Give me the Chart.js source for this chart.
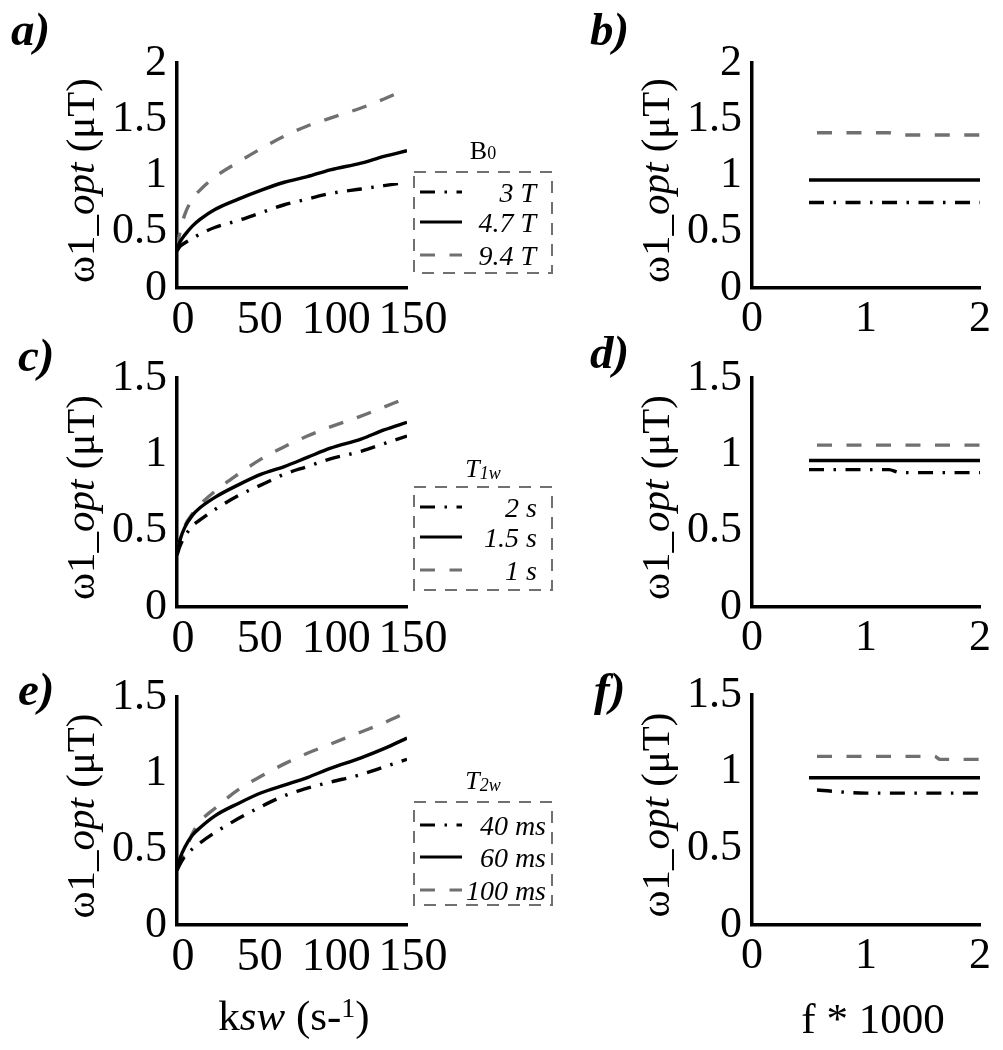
<!DOCTYPE html>
<html>
<head>
<meta charset="utf-8">
<script src="https://cdn.jsdelivr.net/npm/chart.js@4.4.0/dist/chart.umd.min.js"></script>
<style>
  html, body { margin: 0; padding: 0; background: #fff; }
  #wrap { position: relative; width: 1003px; height: 1050px; }
  #wrap canvas { position: absolute; left: 0; top: 0; }
</style>
</head>
<body>
<div id="wrap">
  <canvas id="pa" width="1003" height="1050"></canvas>
  <canvas id="pb" width="1003" height="1050"></canvas>
  <canvas id="pc" width="1003" height="1050"></canvas>
  <canvas id="pd" width="1003" height="1050"></canvas>
  <canvas id="pe" width="1003" height="1050"></canvas>
  <canvas id="pf" width="1003" height="1050"></canvas>
</div>
<script>
const SERIF = '"Liberation Serif", "Times New Roman", serif';
const GRAY = '#707070';

// ksw axis (left column)
const kswPts = [0, 2, 5, 10, 15, 25, 40, 55, 70, 85, 100, 120, 135, 150];
const kswTicks = [0, 50, 100, 150];
// f*1000 axis (right column)
const fPts = [0.5, 0.57, 1.0, 1.2, 1.3, 1.6, 1.65, 2.0];
const fTicks = [0, 1, 2];

// a) B0
const b0Labels = ['3 T', '4.7 T', '9.4 T'];
const a_3T  = [0.33, 0.37, 0.40, 0.44, 0.48, 0.54, 0.60, 0.67, 0.74, 0.79, 0.84, 0.88, 0.91, 0.94];
const a_47T = [0.35, 0.41, 0.47, 0.55, 0.61, 0.70, 0.79, 0.87, 0.94, 0.99, 1.05, 1.11, 1.17, 1.22];
const a_94T = [0.36, 0.50, 0.65, 0.79, 0.87, 0.99, 1.12, 1.24, 1.35, 1.44, 1.51, 1.60, 1.68, 1.77];
// b) B0 vs f
const b_3T  = [0.76, 0.76, 0.76, 0.76, 0.76, 0.76, 0.76, 0.76];
const b_47T = [0.96, 0.96, 0.96, 0.96, 0.96, 0.96, 0.96, 0.96];
const b_94T = [null, 1.38, 1.38, 1.38, 1.36, 1.36, 1.36, 1.36];

// c) T1w
const t1Labels = ['2 s', '1.5 s', '1 s'];
const c_2s  = [0.34, 0.40, 0.46, 0.53, 0.57, 0.64, 0.73, 0.80, 0.87, 0.92, 0.97, 1.02, 1.07, 1.12];
const c_15s = [0.35, 0.44, 0.52, 0.60, 0.65, 0.72, 0.80, 0.87, 0.92, 0.98, 1.04, 1.10, 1.16, 1.21];
const c_1s  = [0.35, 0.44, 0.53, 0.61, 0.67, 0.76, 0.87, 0.97, 1.05, 1.12, 1.18, 1.25, 1.31, 1.37];
// d) T1w vs f
const d_2s  = [0.90, 0.90, 0.90, 0.90, 0.88, 0.88, 0.88, 0.88];
const d_15s = [0.96, 0.96, 0.96, 0.96, 0.96, 0.96, 0.96, 0.96];
const d_1s  = [null, 1.06, 1.06, 1.06, 1.06, 1.06, 1.06, 1.06];

// e) T2w
const t2Labels = ['40 ms', '60 ms', '100 ms'];
const e_40  = [0.36, 0.40, 0.45, 0.50, 0.54, 0.61, 0.70, 0.78, 0.85, 0.90, 0.94, 0.99, 1.04, 1.09];
const e_60  = [0.37, 0.44, 0.51, 0.59, 0.64, 0.72, 0.80, 0.87, 0.92, 0.97, 1.03, 1.10, 1.16, 1.23];
const e_100 = [0.37, 0.41, 0.48, 0.60, 0.68, 0.77, 0.89, 0.98, 1.06, 1.13, 1.19, 1.27, 1.33, 1.40];
// f) T2w vs f
const f_40  = [null, 0.88, 0.86, 0.86, 0.86, 0.86, 0.86, 0.86];
const f_60  = [0.96, 0.96, 0.96, 0.96, 0.96, 0.96, 0.96, 0.96];
const f_100 = [null, 1.10, 1.10, 1.10, 1.10, 1.10, 1.08, 1.08];

const styles = [
  { borderColor: '#000', borderDash: [15, 9.5, 2.5, 9.5] },
  { borderColor: '#000', borderDash: [] },
  { borderColor: GRAY, borderDash: [15, 14.5] }
];

function rich(ctx, parts, x, y, align) {
  let w = 0;
  parts.forEach(p => { ctx.font = p.f; p.w = ctx.measureText(p.t).width; w += p.w; });
  let cx = align === 'center' ? x - w / 2 : align === 'right' ? x - w : x;
  parts.forEach(p => { ctx.font = p.f; ctx.fillText(p.t, cx, y + (p.dy || 0)); cx += p.w; });
}

const yTitle = [
  { t: 'ω1_', f: '41px ' + SERIF },
  { t: 'opt', f: 'italic 41px ' + SERIF },
  { t: ' (μT)', f: '41px ' + SERIF }
];

const decoPlugin = {
  id: 'deco',
  afterDraw(chart, args, o) {
    const ctx = chart.ctx, area = chart.chartArea;
    ctx.save();
    ctx.fillStyle = '#000';
    ctx.textBaseline = 'alphabetic';
    // panel letter
    ctx.font = 'italic bold 47px ' + SERIF;
    ctx.fillText(o.letter, o.lx, o.ly);
    // y title
    ctx.save();
    ctx.translate(o.yx, (area.top + area.bottom) / 2 + 5);
    ctx.rotate(-Math.PI / 2);
    rich(ctx, yTitle, 0, 0, 'center');
    ctx.restore();
    // bottom title
    if (o.xTitle) rich(ctx, o.xTitle, o.xTitleX, o.xTitleY, 'center');
    // legend
    const L = o.legend;
    if (L) {
      ctx.strokeStyle = GRAY;
      ctx.lineWidth = 2;
      ctx.setLineDash([12, 9]);
      ctx.strokeRect(L.x, L.y, L.w, L.h);
      rich(ctx, L.title, L.x + L.w / 2, L.titleY, 'center');
      chart.data.datasets.forEach((ds, i) => {
        const yy = L.rows[i];
        ctx.strokeStyle = ds.borderColor;
        ctx.lineWidth = 3.2;
        ctx.setLineDash(ds.borderDash);
        ctx.beginPath();
        ctx.moveTo(L.x + 6, yy);
        ctx.lineTo(L.x + 48, yy);
        ctx.stroke();
        ctx.fillStyle = '#000';
        ctx.font = 'italic 28px ' + SERIF;
        ctx.textAlign = 'right';
        ctx.fillText(ds.label, L.textRight, yy + 10);
        ctx.textAlign = 'left';
      });
    }
    ctx.restore();
  }
};

function makeChart(id, xs, series, labels, area, xr, ymax, deco) {
  const W = 1003, H = 1050, yw = 70, xh = 50;
  return new Chart(document.getElementById(id), {
    type: 'line',
    data: {
      labels: xs,
      datasets: series.map((s, i) => ({
        label: labels[i],
        data: s,
        borderColor: styles[i].borderColor,
        borderDash: styles[i].borderDash,
        borderWidth: 3.4,
        pointRadius: 0,
        cubicInterpolationMode: 'monotone',
        fill: false
      }))
    },
    options: {
      responsive: false,
      animation: false,
      layout: {
        padding: {
          left: area.left - yw,
          right: W - area.right,
          top: area.top,
          bottom: H - area.bottom - xh
        }
      },
      plugins: { legend: { display: false }, tooltip: { enabled: false }, deco: deco },
      scales: {
        x: {
          type: 'linear',
          min: xr[0], max: xr[1],
          afterFit: s => { s.height = xh; },
          afterBuildTicks: s => { s.ticks = xr[2].map(v => ({ value: v })); },
          grid: { display: false, drawTicks: false },
          border: { display: true, color: '#000', width: 3.5 },
          ticks: { color: '#000', font: { family: SERIF, size: xr[3] }, padding: 5, autoSkip: false, maxRotation: 0,
                   labelOffset: xr[4], callback: v => String(v) }
        },
        y: {
          min: 0, max: ymax,
          afterFit: s => { s.width = yw; },
          ticks: { stepSize: 0.5, color: '#000', font: { family: SERIF, size: 44 }, padding: 10,
                   callback: v => String(v) },
          grid: { display: false, drawTicks: false },
          border: { display: true, color: '#000', width: 3.5 }
        }
      }
    },
    plugins: [decoPlugin]
  });
}

const kswTitle = [
  { t: 'k', f: '43px ' + SERIF },
  { t: 'sw', f: 'italic 43px ' + SERIF },
  { t: ' (s-', f: '43px ' + SERIF },
  { t: '1', f: '28px ' + SERIF, dy: -13 },
  { t: ')', f: '43px ' + SERIF }
];
const fTitle = [{ t: 'f * 1000', f: '43px ' + SERIF }];

const leftX = [0, 150, kswTicks, 46, 6];
const rightX = [0, 2, fTicks, 44, 0];

makeChart('pa', kswPts, [a_3T, a_47T, a_94T], b0Labels,
  { left: 177, right: 407, top: 63, bottom: 288 }, leftX, 2,
  { letter: 'a)', lx: 11, ly: 45, yx: 94,
    legend: { x: 414, y: 172, w: 138, h: 101, titleY: 159, rows: [192, 222, 255], textRight: 536,
      title: [{ t: 'B', f: '26px ' + SERIF }, { t: '0', f: '18px ' + SERIF }] } });

makeChart('pb', fPts, [b_3T, b_47T, b_94T], b0Labels,
  { left: 752, right: 980, top: 63, bottom: 288 }, rightX, 2,
  { letter: 'b)', lx: 590, ly: 45, yx: 669 });

makeChart('pc', kswPts, [c_2s, c_15s, c_1s], t1Labels,
  { left: 177, right: 407, top: 378, bottom: 607 }, leftX, 1.5,
  { letter: 'c)', lx: 18, ly: 371, yx: 94,
    legend: { x: 414, y: 487, w: 138, h: 103, titleY: 477, rows: [507, 537, 570], textRight: 537,
      title: [{ t: 'T', f: 'italic 26px ' + SERIF }, { t: '1w', f: 'italic 18px ' + SERIF, dy: 2 }] } });

makeChart('pd', fPts, [d_2s, d_15s, d_1s], t1Labels,
  { left: 752, right: 980, top: 378, bottom: 607 }, rightX, 1.5,
  { letter: 'd)', lx: 590, ly: 368, yx: 669 });

makeChart('pe', kswPts, [e_40, e_60, e_100], t2Labels,
  { left: 177, right: 407, top: 697, bottom: 925 }, leftX, 1.5,
  { letter: 'e)', lx: 18, ly: 705, yx: 94,
    xTitle: kswTitle, xTitleX: 294, xTitleY: 1030,
    legend: { x: 414, y: 802, w: 138, h: 103, titleY: 789, rows: [825, 857, 890], textRight: 546,
      title: [{ t: 'T', f: 'italic 26px ' + SERIF }, { t: '2w', f: 'italic 18px ' + SERIF, dy: 2 }] } });

makeChart('pf', fPts, [f_40, f_60, f_100], t2Labels,
  { left: 752, right: 980, top: 695, bottom: 925 }, rightX, 1.5,
  { letter: 'f)', lx: 594, ly: 705, yx: 669,
    xTitle: fTitle, xTitleX: 873, xTitleY: 1033 });
</script>
</body>
</html>
